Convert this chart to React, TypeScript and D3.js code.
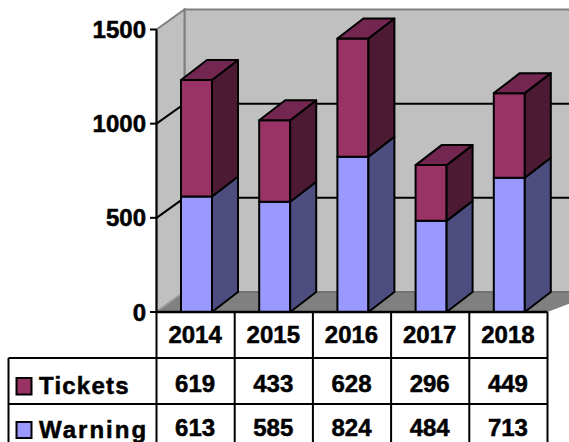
import * as d3 from 'd3'

const years = ['2014', '2015', '2016', '2017', '2018']
const tickets = [619, 433, 628, 296, 449]
const warning = [613, 585, 824, 484, 713]
const yTicks = [0, 500, 1000, 1500]

const width = 569
const height = 442
const font = '"Liberation Sans", Arial, sans-serif'

// 3D offsets of the old-style excel chart
const depthX = 28
const depthY = 20
const barDepthX = 26
const barDepthY = 20
const barOffset = 24.5
const barWidth = 31

const left = 156.5
const right = 547.5
const floorY = 312
const topY = 29.5
const row1 = 358
const row2 = 404
const tableLeft = 8.5

const x = d3.scaleBand<string>().domain(years).range([left, right])
const y = d3.scaleLinear().domain([0, 1500]).range([floorY, topY])

const seriesList = [
  { name: 'Warning', values: warning, front: '#9999ff', side: '#4d4d80', topFill: '#7373bf' },
  { name: 'Tickets', values: tickets, front: '#993366', side: '#4d1a33', topFill: '#732650' },
]

const stackRows = years.map((year, i) => ({ year, Warning: warning[i], Tickets: tickets[i] }))
const stacked = d3.stack<any>().keys(seriesList.map(s => s.name))(stackRows)

const poly = (pts: [number, number][]) => d3.line()(pts) + 'Z'

// heavier look of the bold labels
const labelStyle = { stroke: '#000', strokeWidth: 0.5 }

export default function App() {
  const backLeft = left + depthX
  const backTop = topY - depthY
  const backFloor = floorY - depthY

  return (
    <svg
      width={width}
      height={height}
      viewBox={`0 0 ${width} ${height}`}
      style={{ position: 'absolute', left: 0, top: 0, background: '#fff' }}
    >
      {/* walls */}
      <path
        d={poly([[backLeft, backTop], [width + 5, backTop], [width + 5, backFloor], [backLeft, backFloor]])}
        fill="#c0c0c0"
        stroke="#808080"
        strokeWidth={2}
      />
      <path
        d={poly([[left, topY], [backLeft, backTop], [backLeft, backFloor], [left, floorY]])}
        fill="#c0c0c0"
        stroke="#808080"
        strokeWidth={2}
      />
      <path
        d={poly([[left, floorY], [backLeft, backFloor], [width + 30, backFloor], [right, floorY]])}
        fill="#808080"
      />
      <path d={`M${left},${floorY}L${backLeft},${backFloor}`} stroke="#a6a6a6" strokeWidth={1} fill="none" />
      <path d={`M${backLeft},${backFloor}H${width}`} stroke="#6e6e6e" strokeWidth={1.5} fill="none" />

      {/* gridlines */}
      {yTicks.filter(t => t > 0 && t < 1500).map(t => (
        <path
          key={t}
          d={`M${left},${y(t)}L${backLeft},${y(t) - depthY}L${width + 5},${y(t) - depthY}`}
          fill="none"
          stroke="#000"
          strokeWidth={2}
        />
      ))}

      {/* bars */}
      {years.map((year, i) => {
        const bx = x(year)! + barOffset
        return (
          <g key={year}>
            {seriesList.map((s, si) => {
              const y0 = y(stacked[si][i][0])
              const y1 = y(stacked[si][i][1])
              const rx = bx + barWidth
              return (
                <g key={s.name} stroke="#000" strokeWidth={2} strokeLinejoin="round">
                  <rect x={bx} y={y1} width={barWidth} height={y0 - y1} fill={s.front} />
                  <path
                    d={poly([[rx, y0], [rx, y1], [rx + barDepthX, y1 - barDepthY], [rx + barDepthX, y0 - barDepthY]])}
                    fill={s.side}
                  />
                  {si === seriesList.length - 1 && (
                    <path
                      d={poly([[bx, y1], [bx + barDepthX, y1 - barDepthY], [rx + barDepthX, y1 - barDepthY], [rx, y1]])}
                      fill={s.topFill}
                    />
                  )}
                </g>
              )
            })}
          </g>
        )
      })}

      {/* y axis */}
      <path d={`M${left},${topY}V${floorY}`} stroke="#000" strokeWidth={2} />
      {yTicks.map(t => (
        <g key={t}>
          <path d={`M${left - 6.5},${y(t)}H${left}`} stroke="#000" strokeWidth={2} />
          <text
            x={146}
            y={y(t)}
            dy="0.36em"
            textAnchor="end"
            fontFamily={font}
            fontWeight="bold"
            fontSize={24}
            style={labelStyle}
          >
            {t}
          </text>
        </g>
      ))}

      {/* data table */}
      <g stroke="#000" strokeWidth={2} fill="none">
        <path d={`M${left},${floorY}H${right}`} strokeWidth={2.5} />
        <path d={`M${tableLeft},${row1}H${right}`} />
        <path d={`M${tableLeft},${row2}H${right}`} />
        <path d={`M${tableLeft},${row1}V${height + 5}`} />
        {years.map(year => (
          <path key={year} d={`M${x(year)},${floorY}V${height + 5}`} />
        ))}
        <path d={`M${right},${floorY}V${height + 5}`} />
      </g>

      {years.map((year, i) => {
        const cx = x(year)! + x.bandwidth() / 2
        return (
          <g key={year} textAnchor="middle" fontFamily={font} fontWeight="bold" fontSize={24} style={labelStyle}>
            <text x={cx - 0.5} y={343}>{year}</text>
            <text x={cx - 0.5} y={392}>{tickets[i]}</text>
            <text x={cx - 0.5} y={436}>{warning[i]}</text>
          </g>
        )
      })}

      {/* legend keys in the table */}
      <rect x={16.5} y={378} width={15} height={16.5} fill="#993366" stroke="#000" strokeWidth={2} />
      <rect x={16.5} y={422} width={15} height={16} fill="#9999ff" stroke="#000" strokeWidth={2} />
      <text x={39} y={394} fontFamily={font} fontWeight="bold" fontSize={24} letterSpacing={1.2} style={labelStyle}>Tickets</text>
      <text x={39} y={438} fontFamily={font} fontWeight="bold" fontSize={24} letterSpacing={2} style={labelStyle}>Warning</text>
    </svg>
  )
}
